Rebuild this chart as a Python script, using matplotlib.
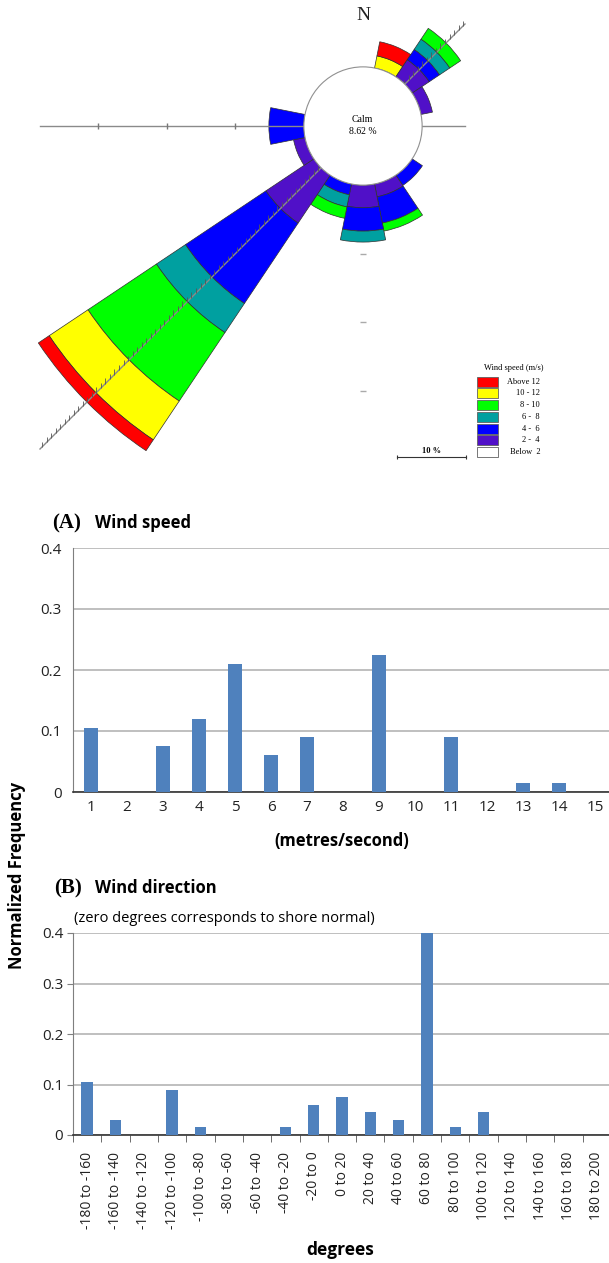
import numpy as np
import matplotlib.pyplot as plt
from matplotlib.patches import Wedge, Circle, Rectangle

plt.rcParams['font.family'] = ['Open Sans', 'DejaVu Sans']

# wind rose: percent of time for each direction and speed class
directions = ['N', 'NNE', 'NE', 'ENE', 'E', 'ESE', 'SE', 'SSE',
              'S', 'SSW', 'SW', 'WSW', 'W', 'WNW', 'NW', 'NNW']
calm = 8.62
f_2_4 = [0, 0, 3.0, 1.7, 0, 0, 0, 1.9, 3.3, 0, 8.4, 1.7, 0, 0, 0, 0]
f_4_6 = [0, 0, 1.8, 0, 0, 0, 1.8, 3.9, 3.4, 1.6, 14.1, 0, 5.1, 0, 0, 0]
f_6_8 = [0, 0, 1.8, 0, 0, 0, 0, 0, 1.6, 1.8, 5.1, 0, 0, 0, 0, 0]
f_8_10 = [0, 0, 1.9, 0, 0, 0, 0, 1.2, 0, 1.7, 12.0, 0, 0, 0, 0, 0]
f_10_12 = [0, 1.8, 0, 0, 0, 0, 0, 0, 0, 0, 6.8, 0, 0, 0, 0, 0]
f_above_12 = [0, 2.1, 0, 0, 0, 0, 0, 0, 0, 0, 1.9, 0, 0, 0, 0, 0]
class_colors = ['#5010C8', '#0000FF', '#00A0A0', '#00FF00', '#FFFF00', '#FF0000']
legend_labels = ['Above 12', '10 - 12', '8 - 10', '6 -  8', '4 -  6', '2 -  4', 'Below  2']
legend_colors = ['#FF0000', '#FFFF00', '#00FF00', '#00A0A0', '#0000FF', '#5010C8', '#FFFFFF']
rings = [10, 20, 30]

# histograms
speed_bins = ['1', '2', '3', '4', '5', '6', '7', '8', '9', '10', '11', '12', '13', '14', '15']
speed_freq = [0.105, 0, 0.075, 0.12, 0.21, 0.06, 0.09, 0, 0.225, 0, 0.09, 0, 0.015, 0.015, 0]
dir_bins = ['-180 to -160', '-160 to -140', '-140 to -120', '-120 to -100', '-100 to -80',
            '-80 to -60', '-60 to -40', '-40 to -20', '-20 to 0', '0 to 20', '20 to 40',
            '40 to 60', '60 to 80', '80 to 100', '100 to 120', '120 to 140', '140 to 160',
            '160 to 180', '180 to 200']
dir_freq = [0.105, 0.03, 0, 0.09, 0.015, 0, 0, 0.015, 0.06, 0.075, 0.045, 0.03, 0.40,
            0.015, 0.045, 0, 0, 0, 0]
yt = [0, 0.1, 0.2, 0.3, 0.4]
ytl = ['0', '0.1', '0.2', '0.3', '0.4']

W, H = 609, 1263
fig = plt.figure(figsize=(W/100, H/100), dpi=100)

# ---- wind rose, drawn in percent units (s px per percent) ----
cx, cy, s, rose_h = 363, 126, 6.86, 480
ax = fig.add_axes([0, 1 - rose_h/H, 1, rose_h/H])
ax.set_xlim(-cx/s, (W - cx)/s)
ax.set_ylim(-(rose_h - cy)/s, cy/s)
ax.axis('off')

def P(x, y):
    return ((x - cx)/s, (cy - y)/s)

table = [f_2_4, f_4_6, f_6_8, f_8_10, f_10_12, f_above_12]
for i, d in enumerate(directions):
    ang = 90 - 22.5*i
    r = calm
    for k in range(len(table)):
        v = table[k][i]
        if v > 0:
            ax.add_patch(Wedge((0, 0), r + v, ang - 11.25, ang + 11.25, width=v,
                               facecolor=class_colors[k], edgecolor='#303030', lw=0.5, zorder=2))
        r += v

x0, _ = P(40, 0)
x1, _ = P(465, 0)
ax.plot([x0, x1], [0, 0], color='#8a8a8a', lw=1, zorder=3)
ax.plot([x0, x1], [x0, x1], color='#8a8a8a', lw=1, zorder=3)
hx = np.arange(x0 + 0.3, x1, 0.66)
ax.vlines(hx, hx, hx + 0.75, color='#555555', lw=0.6, zorder=3)
for rg in rings:
    ax.vlines(-(calm + rg), -0.45, 0.45, color='#777777', lw=1, zorder=3)
    ax.hlines(-(calm + rg), -0.45, 0.45, color='#aaaaaa', lw=1, zorder=3)
ax.add_patch(Circle((0, 0), calm, facecolor='white', edgecolor='#909090', lw=0.8, zorder=4))

serif = ['Liberation Serif', 'DejaVu Serif']
ax.text(*P(363, 15), 'N', family=serif, fontsize=14, ha='center', va='center', color='#222222')
ax.text(*P(362, 119), 'Calm', family=serif, fontsize=7, ha='center', va='center', zorder=6)
ax.text(*P(363, 132), f'{calm} %', family=serif, fontsize=7, ha='center', va='center', zorder=6)

# legend
ax.text(*P(514, 368), 'Wind speed (m/s)', family=serif, fontsize=6, ha='center', va='center')
for k, lab in enumerate(legend_labels):
    top = 376.7 + 11.75*k
    bx, by = P(477, top + 10)
    ax.add_patch(Rectangle((bx, by), 21/s, 10/s, facecolor=legend_colors[k],
                           edgecolor='#606060', lw=0.6, zorder=5))
    ax.text(*P(540, top + 5), lab, family=serif, fontsize=6, ha='right', va='center')

# scale bar
sx0, sy = P(397, 457)
ax.plot([sx0, sx0 + 10], [sy, sy], color='#333333', lw=0.8)
ax.vlines([sx0, sx0 + 10], sy - 0.35, sy + 0.35, color='#333333', lw=0.8)
ax.text(*P(431, 451), '10 %', family=serif, fontsize=6, ha='center', va='center', weight='bold')

# ---- (A) wind speed ----
bar_c = '#4F81BD'
ax1 = fig.add_axes([73/W, 1 - 792/H, 540/W, 244/H])
ax1.bar(np.arange(len(speed_bins)), speed_freq, width=0.4, color=bar_c, zorder=3)
ax1.set_xlim(-0.5, len(speed_bins) - 0.5)
ax1.set_ylim(0, 0.4)
ax1.set_xticks(np.arange(len(speed_bins)))
ax1.set_xticklabels(speed_bins)
ax1.set_yticks(yt)
ax1.set_yticklabels(ytl)
ax1.yaxis.grid(True, color='#b4b4b4', lw=1.2)
ax1.set_axisbelow(True)
for sp in ['top', 'right']:
    ax1.spines[sp].set_visible(False)
ax1.spines['left'].set_color('#7f7f7f')
ax1.spines['bottom'].set_color('#333333')
ax1.spines['bottom'].set_linewidth(1.2)
ax1.tick_params(axis='y', length=0, labelsize=11, pad=8, colors='#222222')
ax1.tick_params(axis='x', length=0, labelsize=11, pad=6, colors='#222222')

# ---- (B) wind direction ----
ax2 = fig.add_axes([73/W, 1 - 1135/H, 538/W, 202/H])
ax2.bar(np.arange(len(dir_bins)), dir_freq, width=0.4, color=bar_c, zorder=3)
ax2.set_xlim(-0.5, len(dir_bins) - 0.5)
ax2.set_ylim(0, 0.4)
ax2.set_xticks(np.arange(len(dir_bins)))
ax2.set_xticklabels(dir_bins, rotation=90)
ax2.set_xticks(np.arange(len(dir_bins) + 1) - 0.5, minor=True)
ax2.set_yticks(yt)
ax2.set_yticklabels(ytl)
ax2.yaxis.grid(True, color='#b4b4b4', lw=1.2)
ax2.set_axisbelow(True)
for sp in ['top', 'right']:
    ax2.spines[sp].set_visible(False)
ax2.spines['left'].set_color('#7f7f7f')
ax2.spines['bottom'].set_color('#333333')
ax2.spines['bottom'].set_linewidth(1.2)
ax2.tick_params(axis='y', length=4, color='#7f7f7f', labelsize=11, pad=3, labelcolor='#222222')
ax2.tick_params(axis='x', which='major', length=0, labelsize=10, pad=12, labelcolor='#222222')
ax2.tick_params(axis='x', which='minor', length=5, color='#555555')

# titles and axis labels
fig.text(67/W, 1 - 523/H, '(A)', family=serif, weight='bold', fontsize=15, ha='center', va='center')
fig.text(95/W, 1 - 523/H, 'Wind speed', weight='bold', fontsize=12, ha='left', va='center')
fig.text(342/W, 1 - 841/H, '(metres/second)', weight='bold', fontsize=12, ha='center', va='center')
fig.text(68/W, 1 - 888/H, '(B)', family=serif, weight='bold', fontsize=15, ha='center', va='center')
fig.text(95/W, 1 - 888/H, 'Wind direction', weight='bold', fontsize=12, ha='left', va='center')
fig.text(74/W, 1 - 918/H, '(zero degrees corresponds to shore normal)', fontsize=10.5,
         ha='left', va='center')
fig.text(340/W, 1 - 1250/H, 'degrees', weight='bold', fontsize=12.5, ha='center', va='center')
fig.text(17/W, 1 - 875/H, 'Normalized Frequency', weight='bold', fontsize=12,
         rotation=90, ha='center', va='center')

fig.savefig('out.png', dpi=100)
